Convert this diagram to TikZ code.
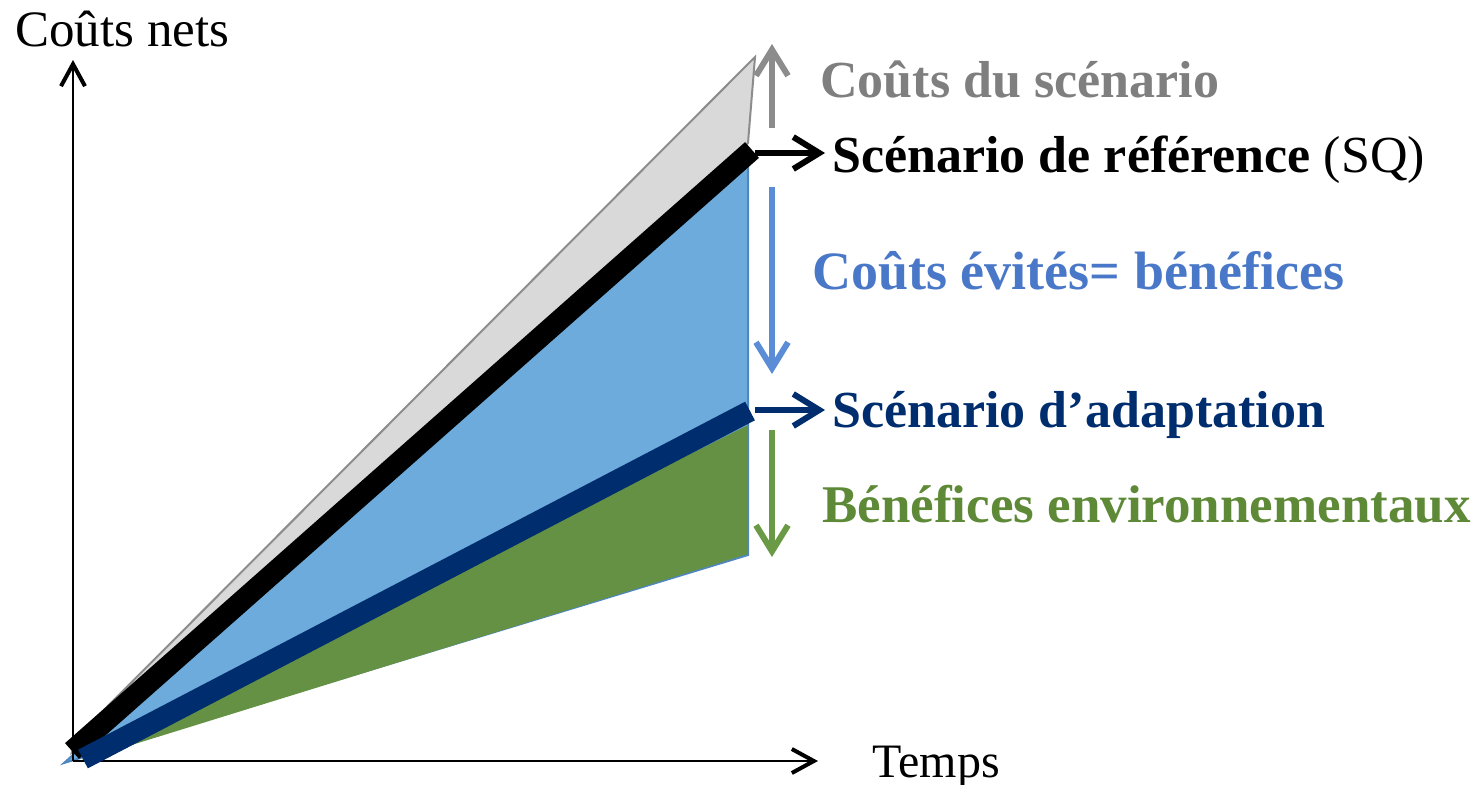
\documentclass[tikz,border=0pt]{standalone}
\usepackage{fontspec}
\setmainfont{Liberation Serif}
\usetikzlibrary{arrows.meta}
\definecolor{grayfill}{HTML}{D9D9D9}
\definecolor{grayedge}{HTML}{8C8C8C}
\definecolor{graytext}{HTML}{7F7F7F}
\definecolor{bluefill}{HTML}{6CABDB}
\definecolor{blueedge}{HTML}{4F86C0}
\definecolor{bluetext}{HTML}{4A78C8}
\definecolor{bluearrow}{HTML}{5B8CD6}
\definecolor{greenfill}{HTML}{649144}
\definecolor{greentext}{HTML}{5E8A38}
\definecolor{greenarrow}{HTML}{6A9A45}
\definecolor{navy}{HTML}{002D6E}
\tikzset{
  axisarrow/.style={line width=1.1pt,-{Straight Barb[length=11pt,width=12pt,line width=2pt]}},
  labarrow/.style={line width=2.8pt,-{Straight Barb[length=13pt,width=16pt,line width=3pt]}},
  lab/.style={anchor=base west,inner sep=0pt,font=\fontsize{26}{30}\selectfont\bfseries},
  axlab/.style={anchor=base west,inner sep=0pt,font=\fontsize{24}{28}\selectfont},
  thick band/.style={line width=10.5pt}
}
\begin{document}
\begin{tikzpicture}[x=0.5pt,y=-0.5pt]
\useasboundingbox (0,0) rectangle (1481,785);
% coordinates
\coordinate (O) at (73,761);
\coordinate (ytop) at (73,60);
\coordinate (xend) at (818,761);
\coordinate (refA) at (72,751);
\coordinate (refB) at (752,150);
\coordinate (adaA) at (83,759);
\coordinate (adaB) at (750,411);
% areas
\fill[grayfill,draw=grayedge,line width=1pt] (76,738) -- (755,57) -- (748,143) -- (72,752) -- cycle;
\fill[bluefill,draw=blueedge,line width=1pt] (64,763) -- (748,150) -- (748,555) -- cycle;
\fill[greenfill] (80,761) -- (748,425) -- (748,554) -- cycle;
% axes
\draw[axisarrow] (O) -- (ytop);
\draw[axisarrow] (O) -- (xend);
% scenario lines
\draw[thick band,black] (refA) -- (refB);
\draw[thick band,navy] (adaA) -- (adaB);
% labels
\node[axlab,font=\fontsize{25.5}{30}\selectfont] (ylab) at (15,47) {Coûts nets};
\node[axlab] (xlab) at (872,777) {Temps};
\node[lab,text=graytext] (cout) at (820,98) {Coûts du scénario};
\node[lab,text=black] (ref) at (832,173) {Scénario de référence \mdseries(SQ)};
\node[lab,text=bluetext,font=\fontsize{27}{30}\selectfont\bfseries] (evit) at (812,290) {Coûts évités= bénéfices};
\node[lab,text=navy] (ada) at (832,428) {Scénario d’adaptation};
\node[lab,text=greentext,font=\fontsize{26.5}{30}\selectfont\bfseries] (env) at (822,522) {Bénéfices environnementaux};
% label arrows
\coordinate (g1) at (772,128); \coordinate (g2) at (772,44);
\coordinate (k1) at (755,153); \coordinate (k2) at (825,153);
\coordinate (b1) at (772,187); \coordinate (b2) at (772,374);
\coordinate (n1) at (755,410); \coordinate (n2) at (825,410);
\coordinate (e1) at (772,430); \coordinate (e2) at (772,557);
\draw[labarrow,grayedge] (g1) -- (g2);
\draw[labarrow,black] (k1) -- (k2);
\draw[labarrow,bluearrow] (b1) -- (b2);
\draw[labarrow,navy] (n1) -- (n2);
\draw[labarrow,greenarrow] (e1) -- (e2);
\end{tikzpicture}
\end{document}
